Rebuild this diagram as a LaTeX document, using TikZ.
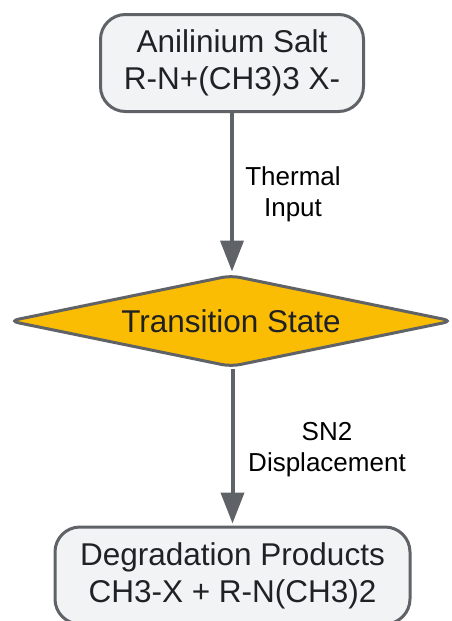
\documentclass[tikz,border=0pt]{standalone}
\usepackage{fontspec}
\setmainfont{Liberation Sans}
\usetikzlibrary{shapes.geometric,arrows.meta}
\definecolor{edgegray}{RGB}{95,99,104}
\definecolor{boxfill}{RGB}{241,243,244}
\definecolor{amber}{RGB}{251,188,4}
\definecolor{txt}{RGB}{32,33,36}
\tikzset{
  procbox/.style={draw=edgegray, line width=3pt, fill=boxfill, rounded corners=25pt,
    align=center, text=txt, font=\fontsize{31.5}{37}\selectfont, inner sep=0pt},
  decbox/.style={diamond, shape aspect=4.85, draw=edgegray, line width=3pt, fill=amber, rounded corners=9pt,
    align=center, text=txt, font=\fontsize{31.5}{37}\selectfont, inner sep=0pt},
  flowarrow/.style={draw=edgegray, line width=4pt, -{Triangle[length=31pt,width=23pt]}, shorten >=2pt},
  edgelabel/.style={align=center, text=black, font=\fontsize{26}{31}\selectfont}
}
\begin{document}
\begin{tikzpicture}[x=1pt,y=-1pt]
\useasboundingbox (0,0) rectangle (451,621);
\clip (0,0) rectangle (451,621);
\node[procbox, minimum width=263pt, minimum height=97pt] (salt) at (232,63) {Anilinium Salt\\R-N+(CH3)3 X-};
\node[decbox, minimum width=444pt, minimum height=92pt] (ts) at (231,321) {Transition State};
\node[procbox, minimum width=355pt, minimum height=97pt] (prod) at (232.5,575.5) {Degradation Products\\CH3-X + R-N(CH3)2};
\draw[flowarrow] (salt.south) -- (salt.south |- ts.north);
\draw[flowarrow] (ts.south -| prod.north) -- (prod.north);
\node[edgelabel] (l1) at (293,194) {Thermal\\Input};
\node[edgelabel] (l2) at (327,450) {SN2\\Displacement};
\end{tikzpicture}
\end{document}
